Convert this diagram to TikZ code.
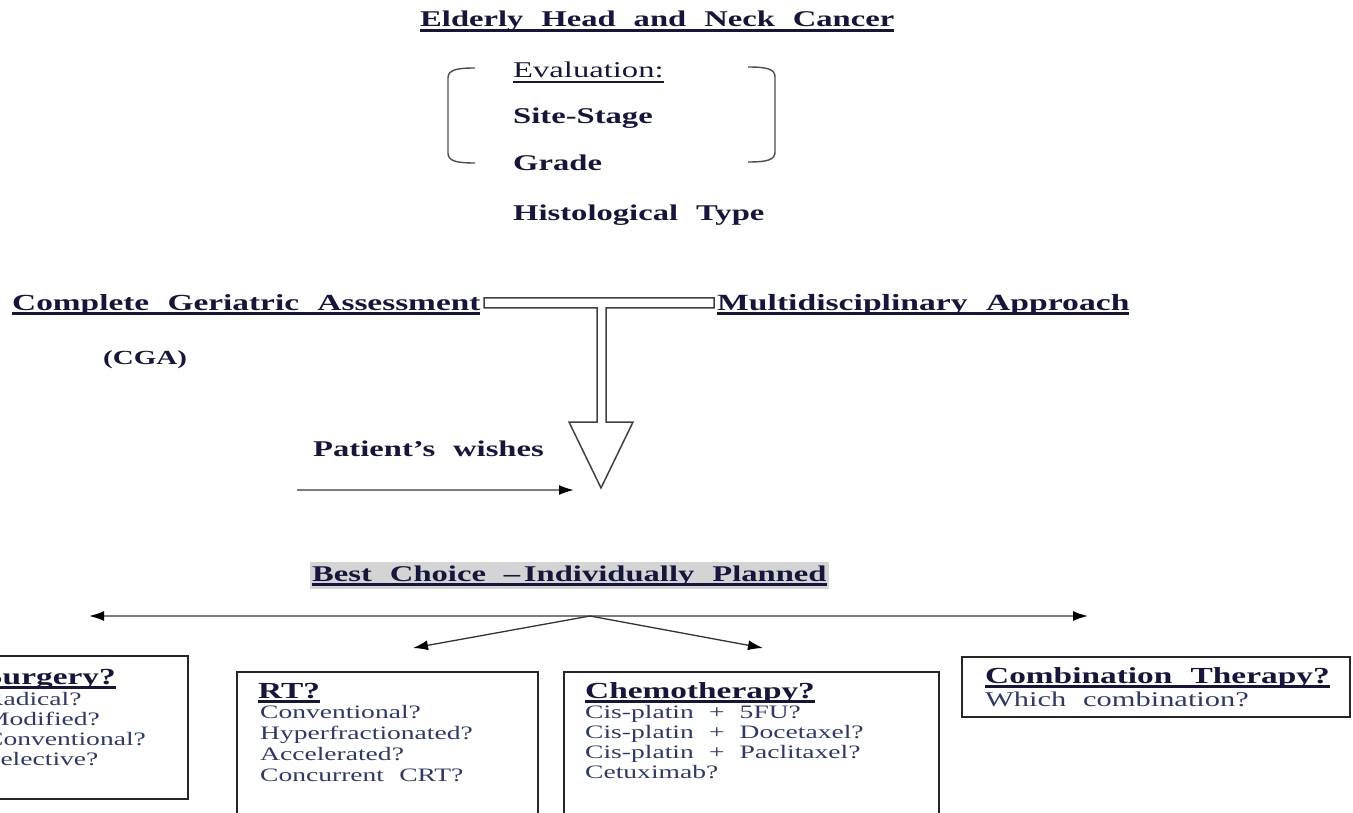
\documentclass[tikz,border=0pt]{standalone}
\usepackage{fontspec}
\setmainfont{Liberation Serif}[FakeStretch=1.45,WordSpace=2.2]
\usepackage{tikz}
\usetikzlibrary{positioning, arrows.meta, calc}
\definecolor{inkc}{RGB}{22,22,60}
\definecolor{itemc}{RGB}{45,58,105}
\definecolor{linec}{RGB}{125,125,125}
\definecolor{shadec}{RGB}{212,212,212}
\newcommand\undl[2][2.6pt]{\setbox0=\hbox{#2}\rlap{\rule[-5pt]{\wd0}{#1}}\box0}
\tikzstyle{lbl} = [inner sep=0pt, anchor=base west, text=inkc, font=\bfseries\fontsize{22.5}{26}\selectfont]
\tikzstyle{txt} = [inner sep=0pt, anchor=base west, text=inkc, font=\fontsize{22.5}{26}\selectfont]
\tikzstyle{hd} = [inner sep=0pt, anchor=base west, text=inkc, font=\bfseries\fontsize{23}{26}\selectfont]
\tikzstyle{item} = [inner sep=0pt, anchor=base west, text=itemc, font=\fontsize{19}{20}\selectfont]
\tikzstyle{block} = [rectangle, draw=black!85, line width=1.6pt]
\tikzstyle{arrow} = [draw=linec, line width=1.8pt, -{Latex[length=15pt,width=10pt,color=black]}]
\tikzstyle{fork} = [draw=black!80, line width=1.3pt, -{Latex[length=15pt,width=10pt,color=black]}]
\tikzstyle{brk} = [draw=black!70, line width=1.4pt]

\begin{document}
\begin{tikzpicture}[x=1pt, y=-1pt]
        \useasboundingbox (0,0) rectangle (1353,813);
        \clip (0,0) rectangle (1353,813);
        \node (title) [lbl] at (420,27) {\undl{Elderly Head and Neck Cancer}};
        \node (eval) [txt] at (513,78) {\undl[1.6pt]{Evaluation:}};
        \node (site) [lbl] at (513,124) {Site-Stage};
        \node (grade) [lbl] at (513,171) {Grade};
        \node (histo) [lbl] at (513,221) {Histological Type};
        \draw [brk] (475,68) .. controls (456,68) and (448,70) .. (448,78) -- (448,153) .. controls (448,161) and (456,163) .. (475,163);
        \draw [brk] (748,67) .. controls (767,67) and (775,69) .. (775,77) -- (775,152) .. controls (775,160) and (767,162) .. (748,162);

        \node (cga) [lbl, font=\bfseries\fontsize{23}{26}\selectfont] at (12,310) {\undl{Complete Geriatric Assessment}};
        \node (cgashort) [lbl, font=\bfseries\fontsize{20}{22}\selectfont] at (103,364) {(CGA)};
        \node (multi) [lbl, font=\bfseries\fontsize{23.2}{26}\selectfont] at (717,310) {\undl{Multidisciplinary Approach}};
        \coordinate (barleft) at (484,298);
        \coordinate (barright) at (714,308);
        \coordinate (tip) at (601,488);
        \draw [draw=black!75, line width=1.5pt] (barleft) -- (barright |- barleft) -- (barright) -- (606,308) -- (606,422) -- (633,422) -- (tip) -- (569,422) -- (597,422) -- (597,308) -- (barleft |- barright) -- cycle;

        \node (wishes) [lbl] at (313,456) {Patient’s wishes};
        \coordinate (wishstart) at (297,490);
        \coordinate (wishend) at (574,490);
        \draw [arrow] (wishstart) -- (wishend);

        \node (best) [lbl, fill=shadec, inner xsep=2pt, inner ysep=3pt] at (310,581) {\undl{Best Choice –\,Individually Planned}};
        \coordinate (split) at (590,616);
        \coordinate (farleft) at (89,616);
        \coordinate (farright) at (1088,616);
        \coordinate (nearleft) at (413,648);
        \coordinate (nearright) at (763,648);
        \draw [arrow, {Latex[length=15pt,width=10pt,color=black]}-{Latex[length=15pt,width=10pt,color=black]}] (farleft) -- (farright);
        \draw [fork] (split) -- (nearleft);
        \draw [fork] (split) -- (nearright);

        \node (surgery) [block, line width=2.2pt, minimum width=228pt, minimum height=143pt] at (74,727.5) {};
        \node (rt) [block, minimum width=301pt, minimum height=200pt] at (387.5,772) {};
        \node (chemo) [block, minimum width=375pt, minimum height=200pt] at (751.5,772) {};
        \node (combo) [block, minimum width=388pt, minimum height=60pt] at (1156,687) {};

        \node (surghd) [hd] at (-16,684) {\undl{Surgery?}};
        \foreach \t [count=\i] in {Radical?, Modified?, Conventional?, Selective?}
            \node (surg\i) [item] at (-15,685+20*\i) {\t};
        \node (rthd) [hd] at (258,698) {\undl{RT?}};
        \foreach \t [count=\i] in {Conventional?, Hyperfractionated?, Accelerated?, Concurrent CRT?}
            \node (rt\i) [item] at (260,697+21*\i) {\t};
        \node (chemohd) [hd] at (585,698) {\undl{Chemotherapy?}};
        \foreach \t [count=\i] in {Cis-platin + 5FU?, Cis-platin + Docetaxel?, Cis-platin + Paclitaxel?, Cetuximab?}
            \node (chemo\i) [item, font=\fontsize{19}{20}\selectfont] at (585,698+20*\i) {\t};
        \node (combohd) [hd] at (985,683) {\undl{Combination Therapy?}};
        \node (combo1) [item, font=\fontsize{21}{22}\selectfont] at (985,706) {Which combination?};
    \end{tikzpicture}
\end{document}
